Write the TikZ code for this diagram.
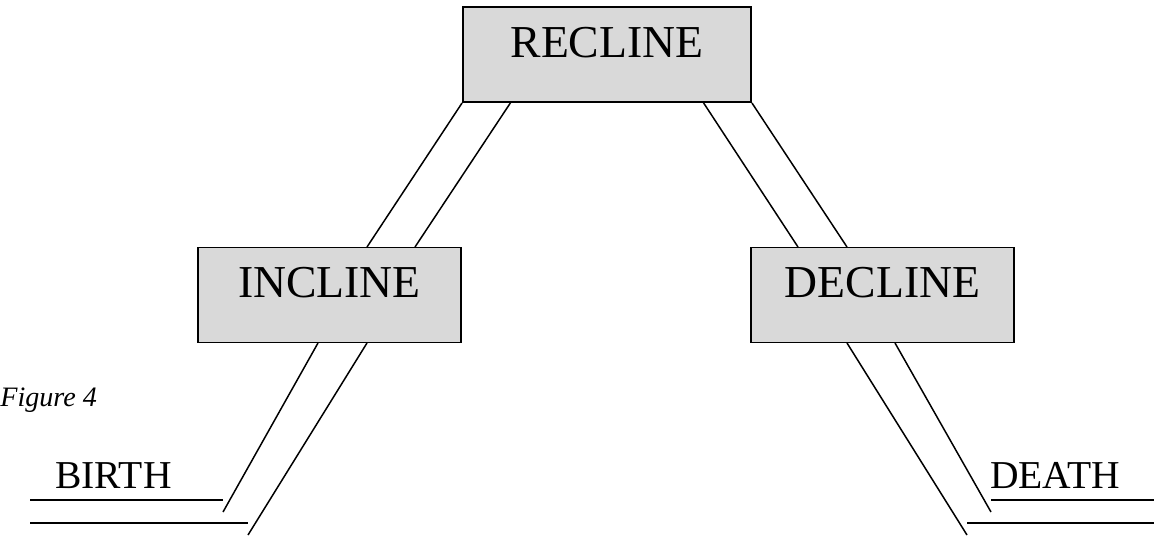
\documentclass[tikz,border=0pt]{standalone}
\usepackage{fontspec}
\setmainfont{Liberation Serif}

\definecolor{boxgrey}{HTML}{D9D9D9}

\tikzset{
    stage/.style={draw=black, line width=1.1pt, fill=boxgrey, inner sep=0pt,
        minimum width=5.26cm, text height=1cm, text depth=0.9cm,
        font=\fontsize{26}{30}\selectfont},
    endlabel/.style={inner sep=0pt, anchor=base, font=\fontsize{22.5}{26}\selectfont},
    rail/.style={line width=0.85pt}
}

\begin{document}
\begin{tikzpicture}[x=0.02cm, y=-0.02cm]
    \useasboundingbox (0,0) rectangle (1154,535);

    % Stages
    \node[stage, minimum width=5.76cm] (recline) at (607,54.5) {RECLINE};
    \node[stage] (incline) at (329.5,295) {INCLINE};
    \node[stage] (decline) at (882.5,295) {DECLINE};

    % Ends and caption
    \node[endlabel] (birth) at (113.5,488) {BIRTH};
    \node[endlabel] (death) at (1055,488) {DEATH};
    \node[anchor=base west, inner sep=0pt, font=\fontsize{16}{19}\selectfont\itshape] (caption) at (0,406) {Figure 4};

    % Points on the box edges
    \coordinate (r2) at (511,102);
    \coordinate (r3) at (703,102);
    \coordinate (i1) at (367,247);
    \coordinate (i2) at (415,247);
    \coordinate (i3) at (318,343);
    \coordinate (i4) at (367,343);
    \coordinate (d1) at (798,247);
    \coordinate (d2) at (847,247);
    \coordinate (d3) at (847,343);
    \coordinate (d4) at (895,343);

    % Free ends
    \coordinate (b1) at (223,512);
    \coordinate (b2) at (248,535);
    \coordinate (e1) at (991,512);
    \coordinate (e2) at (967,535);
    \coordinate (bh1) at (30,500);
    \coordinate (bh2) at (223,500);
    \coordinate (bh3) at (30,523);
    \coordinate (bh4) at (248,523);
    \coordinate (eh1) at (991,500);
    \coordinate (eh2) at (1154,500);
    \coordinate (eh3) at (967,523);
    \coordinate (eh4) at (1154,523);

    % Up
    \draw[rail] (recline.south west) -- (i1);
    \draw[rail] (r2) -- (i2);
    \draw[rail] (i3) -- (b1);
    \draw[rail] (i4) -- (b2);
    \draw[rail] (bh1) -- (bh2);
    \draw[rail] (bh3) -- (bh4);

    % Down
    \draw[rail] (r3) -- (d1);
    \draw[rail] (recline.south east) -- (d2);
    \draw[rail] (d3) -- (e2);
    \draw[rail] (d4) -- (e1);
    \draw[rail] (eh1) -- (eh2);
    \draw[rail] (eh3) -- (eh4);
\end{tikzpicture}
\end{document}
